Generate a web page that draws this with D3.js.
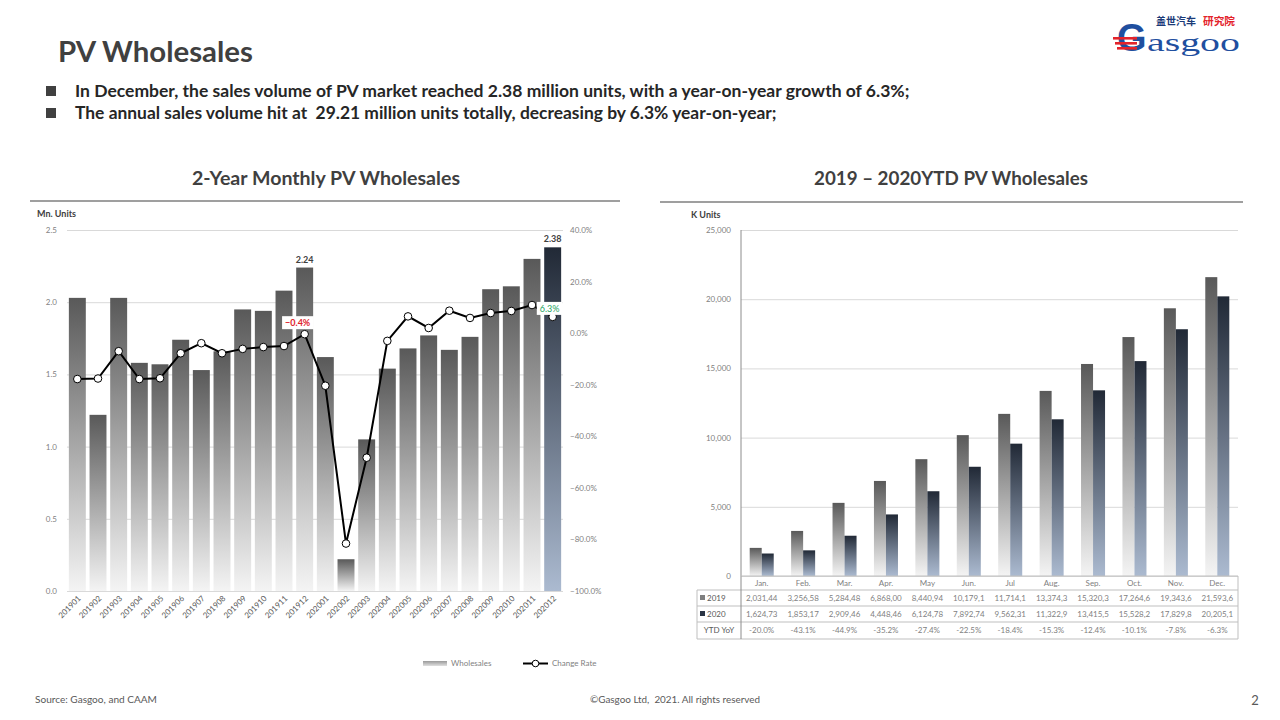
<!DOCTYPE html>
<html><head><meta charset="utf-8">
<script src="https://cdn.jsdelivr.net/npm/d3@7"></script>
<style>body{margin:0;background:#fff;} svg{display:block;font-family:Lato,"Open Sans",sans-serif;}</style>
</head><body><svg id="c" width="1280" height="720"></svg>
<script>
// ---------- data ----------
const months = ["201901","201902","201903","201904","201905","201906","201907","201908","201909","201910","201911","201912",
  "202001","202002","202003","202004","202005","202006","202007","202008","202009","202010","202011","202012"];
const wholesales = [2.03,1.22,2.03,1.58,1.57,1.74,1.53,1.66,1.95,1.94,2.08,2.24,
  1.62,0.22,1.05,1.54,1.68,1.77,1.67,1.76,2.09,2.11,2.30,2.38];
const changeRate = [-17.8,-17.6,-7.0,-17.8,-17.5,-7.8,-3.9,-7.8,-6.1,-5.4,-5.0,-0.4,
  -20.4,-81.6,-48.3,-3.0,6.5,2.0,8.7,5.9,7.8,8.6,10.9,6.3];
const leftTicks = [0,0.5,1.0,1.5,2.0,2.5];
const rateTicks = [-100,-80,-60,-40,-20,0,20,40];

const ytdMonths = ["Jan.","Feb.","Mar.","Apr.","May","Jun.","Jul","Aug.","Sep.","Oct.","Nov.","Dec."];
const ytdSeries = ["2019","2020"];
const ytd2019 = [2031.44,3256.58,5284.48,6868.00,8440.94,10179.1,11714.1,13374.3,15320.3,17264.6,19343.6,21593.6];
const ytd2020 = [1624.73,1853.17,2909.46,4448.46,6124.78,7892.74,9562.31,11322.9,13415.5,15528.2,17829.8,20205.1];
const ytd2019Labels = ["2,031,44","3,256,58","5,284,48","6,868,00","8,440,94","10,179,1","11,714,1","13,374,3","15,320,3","17,264,6","19,343,6","21,593,6"];
const ytd2020Labels = ["1,624,73","1,853,17","2,909,46","4,448,46","6,124,78","7,892,74","9,562,31","11,322,9","13,415,5","15,528,2","17,829,8","20,205,1"];
const ytdYoYLabels = ["-20.0%","-43.1%","-44.9%","-35.2%","-27.4%","-22.5%","-18.4%","-15.3%","-12.4%","-10.1%","-7.8%","-6.3%"];
const ytdTicks = [0,5000,10000,15000,20000,25000];

// ---------- setup ----------
const svg = d3.select("#c");
const defs = svg.append("defs");
function vgrad(id, top, bottom){
  const g = defs.append("linearGradient").attr("id",id).attr("x1",0).attr("y1",0).attr("x2",0).attr("y2",1);
  g.append("stop").attr("offset","0%").attr("stop-color",top);
  g.append("stop").attr("offset","100%").attr("stop-color",bottom);
}
vgrad("gGray","#595959","#f4f4f4");
vgrad("gNavy","#212936","#abbad0");
const hg = defs.append("linearGradient").attr("id","gLeg").attr("x1",0).attr("y1",0).attr("x2",0).attr("y2",1);
hg.append("stop").attr("offset","0%").attr("stop-color","#9a9a9a");
hg.append("stop").attr("offset","100%").attr("stop-color","#e0e0e0");

function fit(sel, w){
  const n = sel.node(); const cur = parseFloat(sel.attr("font-size"));
  const len = n.getComputedTextLength();
  if(len>0) sel.attr("font-size", (cur*w/len).toFixed(2));
  return sel;
}

// ---------- header ----------
fit(svg.append("text").attr("x",58).attr("y",62).attr("font-size",26).attr("font-weight","bold")
  .attr("fill","#404040").text("PV Wholesales"),195);
const bullets = ["In December, the sales volume of PV market reached 2.38 million units, with a year-on-year growth of 6.3%;",
  "The annual sales volume hit at  29.21 million units totally, decreasing by 6.3% year-on-year;"];
const bw = [835, 702];
bullets.forEach((b,i)=>{
  svg.append("rect").attr("x",46).attr("y",86+i*22).attr("width",10).attr("height",10).attr("fill","#404040");
  fit(svg.append("text").attr("x",75).attr("y",97+i*22).attr("font-size",15).attr("font-weight","bold")
    .attr("fill","#262626").attr("xml:space","preserve").style("white-space","pre").text(b), bw[i]);
});

// logo
const logo = svg.append("g");
fit(logo.append("text").attr("x",1156).attr("y",25).attr("font-size",10).attr("font-weight","bold")
  .attr("font-family","Noto Sans CJK SC").attr("fill","#1b3a78").text("盖世汽车"),40);
fit(logo.append("text").attr("x",1203).attr("y",25).attr("font-size",10).attr("font-weight","bold")
  .attr("font-family","Noto Sans CJK SC").attr("fill","#e3232b").text("研究院"),32);
logo.append("text").attr("x",1117).attr("y",51).attr("font-size",38).attr("font-weight","bold")
  .attr("font-family","'Liberation Sans','DejaVu Sans',sans-serif").attr("fill","#1f4f9f").text("G");
const asg = logo.append("g").attr("transform","translate(1147,51)");
const asgT = asg.append("text").attr("x",0).attr("y",0).attr("font-size",22)
  .attr("font-family","'Liberation Serif','DejaVu Serif',serif").attr("fill","#1f4f9f").text("asgoo");
const asgLen = asgT.node().getComputedTextLength();
asg.attr("transform",`translate(1147,51) scale(${(93/asgLen).toFixed(3)},1.15)`);
[37,42,47].forEach((yy,i)=>logo.append("rect").attr("x",1113+i*2).attr("y",yy).attr("width",24-i*2).attr("height",2.6).attr("fill","#e3232b"));

// footer
fit(svg.append("text").attr("x",35).attr("y",703).attr("font-size",10).attr("fill","#595959").text("Source: Gasgoo, and CAAM"),122);
fit(svg.append("text").attr("x",675).attr("y",703).attr("text-anchor","middle").attr("font-size",10).attr("fill","#595959")
  .attr("xml:space","preserve").style("white-space","pre").text("©Gasgoo Ltd,  2021. All rights reserved"),170);
svg.append("text").attr("x",1255).attr("y",705).attr("font-size",13).attr("fill","#595959").attr("text-anchor","middle").text("2");

// ---------- left chart ----------
const L = svg.append("g");
fit(L.append("text").attr("x",326).attr("y",185).attr("text-anchor","middle").attr("font-size",16).attr("font-weight","bold")
  .attr("fill","#404040").text("2-Year Monthly PV Wholesales"),268);
L.append("line").attr("x1",30).attr("x2",620).attr("y1",201).attr("y2",201).attr("stroke","#7f7f7f").attr("stroke-width",1.5);
L.append("text").attr("x",37).attr("y",217).attr("font-size",9).attr("font-weight","bold").attr("fill","#404040").text("Mn. Units");

const x = d3.scaleBand().domain(months).range([67,563]).paddingInner(0.18).paddingOuter(0.09);
const y = d3.scaleLinear().domain([0,2.5]).range([591,230]);
const yR = d3.scaleLinear().domain([-100,40]).range([591,230]);

const ga = L.append("g").attr("transform","translate(67,0)")
  .call(d3.axisLeft(y).tickValues(leftTicks).tickSize(-(563-67)).tickPadding(10).tickFormat(d3.format(".1f")));
ga.select(".domain").remove();
ga.selectAll("line").attr("stroke","#d9d9d9");
ga.selectAll("text").attr("fill","#7f7f7f").attr("font-size",8).attr("font-family","Lato,sans-serif");

const gr = L.append("g").attr("transform","translate(563,0)")
  .call(d3.axisRight(yR).tickValues(rateTicks).tickSize(0).tickPadding(7).tickFormat(d=>d3.format(".1%")(d/100)));
gr.select(".domain").remove();
gr.selectAll("text").attr("fill","#7f7f7f").attr("font-size",8).attr("font-family","Lato,sans-serif");

L.selectAll("rect.bar").data(months).join("rect").attr("class","bar")
  .attr("x",d=>x(d)).attr("width",x.bandwidth())
  .attr("y",(d,i)=>y(wholesales[i])).attr("height",(d,i)=>y(0)-y(wholesales[i]))
  .attr("fill",(d,i)=>i===months.length-1?"url(#gNavy)":"url(#gGray)");

// x labels
L.selectAll("text.xl").data(months).join("text").attr("class","xl")
  .attr("transform",d=>`translate(${x(d)+x.bandwidth()/2+4},${599}) rotate(-45)`)
  .attr("text-anchor","end").attr("font-size",8).attr("fill","#595959").text(d=>d);

// bar value labels
[11,23].forEach(i=>{
  L.append("text").attr("x",x(months[i])+x.bandwidth()/2).attr("y",y(wholesales[i])-5)
   .attr("text-anchor","middle").attr("font-size",9).attr("font-weight","bold").attr("fill","#404040")
   .text(d3.format(".2f")(wholesales[i]));
});

// line
const cx = (d,i)=>x(months[i])+x.bandwidth()/2;
L.append("path").datum(changeRate)
  .attr("d",d3.line().x(cx).y(d=>yR(d)))
  .attr("fill","none").attr("stroke","#000").attr("stroke-width",2);
L.selectAll("circle.pt").data(changeRate).join("circle").attr("class","pt")
  .attr("cx",cx).attr("cy",d=>yR(d)).attr("r",3.8)
  .attr("fill","#fff").attr("stroke","#000").attr("stroke-width",1);

// rate labels
function rateLabel(i, dx, dy, color, weight){
  const px = cx(0,i)+dx, py = yR(changeRate[i])+dy;
  const t = L.append("text").attr("x",px).attr("y",py).attr("text-anchor","middle").attr("font-size",9)
    .attr("font-weight",weight).attr("fill",color).text(d3.format(".1f")(changeRate[i])+"%");
  const bb = t.node().getBBox();
  L.insert("rect", ()=>t.node()).attr("x",bb.x-3).attr("y",bb.y-1).attr("width",bb.width+6).attr("height",bb.height+2).attr("fill","#fff");
}
rateLabel(11,-7,-8,"#e0242b","bold");
rateLabel(23,-3,-5,"#1fa463","normal");

// legend
L.append("rect").attr("x",423).attr("y",661).attr("width",24).attr("height",5).attr("fill","url(#gLeg)");
L.append("text").attr("x",451).attr("y",666).attr("font-size",8).attr("fill","#7f7f7f").text("Wholesales");
L.append("line").attr("x1",523).attr("x2",548).attr("y1",663.5).attr("y2",663.5).attr("stroke","#000").attr("stroke-width",2);
L.append("circle").attr("cx",535.5).attr("cy",663.5).attr("r",3.3).attr("fill","#fff").attr("stroke","#000");
L.append("text").attr("x",552).attr("y",666).attr("font-size",8).attr("fill","#7f7f7f").text("Change Rate");

// ---------- right chart ----------
const R = svg.append("g");
fit(R.append("text").attr("x",951).attr("y",185).attr("text-anchor","middle").attr("font-size",16).attr("font-weight","bold")
  .attr("fill","#404040").text("2019 – 2020YTD PV Wholesales"),274);
R.append("line").attr("x1",660).attr("x2",1243).attr("y1",202).attr("y2",202).attr("stroke","#7f7f7f").attr("stroke-width",1.5);
R.append("text").attr("x",691).attr("y",218).attr("font-size",9).attr("font-weight","bold").attr("fill","#404040").text("K Units");

const x0 = d3.scaleBand().domain(ytdMonths).range([741,1238]).paddingInner(0.42).paddingOuter(0.21);
const x1 = d3.scaleBand().domain(ytdSeries).range([0,x0.bandwidth()]);
const y2 = d3.scaleLinear().domain([0,25000]).range([576,230]);

const ga2 = R.append("g").attr("transform","translate(741,0)")
  .call(d3.axisLeft(y2).tickValues(ytdTicks).tickSize(-(1238-741)).tickPadding(10).tickFormat(d3.format(",")));
ga2.select(".domain").remove();
ga2.selectAll("line").attr("stroke","#d9d9d9");
ga2.selectAll("text").attr("fill","#7f7f7f").attr("font-size",8).attr("font-family","Lato,sans-serif");

const seriesVals = {"2019":ytd2019,"2020":ytd2020};
ytdSeries.forEach(s=>{
  R.selectAll("rect.b"+s).data(ytdMonths).join("rect").attr("class","b"+s)
   .attr("x",d=>x0(d)+x1(s)).attr("width",x1.bandwidth())
   .attr("y",(d,i)=>y2(seriesVals[s][i])).attr("height",(d,i)=>y2(0)-y2(seriesVals[s][i]))
   .attr("fill",s==="2019"?"url(#gGray)":"url(#gNavy)");
});

// table
const rowsY = [576,590,606,622,639];
const tcol = "#bfbfbf";
[1,2,3,4].forEach(k=>R.append("line").attr("x1",697).attr("x2",1238).attr("y1",rowsY[k]).attr("y2",rowsY[k]).attr("stroke",tcol));
R.append("line").attr("x1",697).attr("x2",697).attr("y1",590).attr("y2",639).attr("stroke",tcol);
R.append("line").attr("x1",1238).attr("x2",1238).attr("y1",576).attr("y2",639).attr("stroke",tcol);
R.append("line").attr("x1",741).attr("x2",741).attr("y1",230).attr("y2",639).attr("stroke","#8c8c8c");
R.append("line").attr("x1",741).attr("x2",1238).attr("y1",576).attr("y2",576).attr("stroke","#bfbfbf");

const colC = d=>x0(d)+x0.bandwidth()/2;
R.selectAll("text.mh").data(ytdMonths).join("text").attr("class","mh")
  .attr("x",colC).attr("y",586).attr("text-anchor","middle").attr("font-size",8).attr("fill","#7f7f7f").text(d=>d);
const rowData = [ytd2019Labels, ytd2020Labels, ytdYoYLabels];
rowData.forEach((arr,r)=>{
  R.selectAll("text.r"+r).data(arr).join("text").attr("class","r"+r)
   .attr("x",(d,i)=>colC(ytdMonths[i])).attr("y",rowsY[r+1]+11).attr("text-anchor","middle")
   .attr("font-size",8).attr("fill","#7f7f7f").text(d=>d);
});
R.append("rect").attr("x",700).attr("y",595).attr("width",5).attr("height",5).attr("fill","#7f7f7f");
R.append("text").attr("x",707).attr("y",601).attr("font-size",8).attr("fill","#595959").text(ytdSeries[0]);
R.append("rect").attr("x",700).attr("y",611).attr("width",5).attr("height",5).attr("fill","#2a3444");
R.append("text").attr("x",707).attr("y",617).attr("font-size",8).attr("fill","#595959").text(ytdSeries[1]);
R.append("text").attr("x",719).attr("y",633).attr("text-anchor","middle").attr("font-size",8).attr("fill","#595959").text("YTD YoY");
</script></body></html>
